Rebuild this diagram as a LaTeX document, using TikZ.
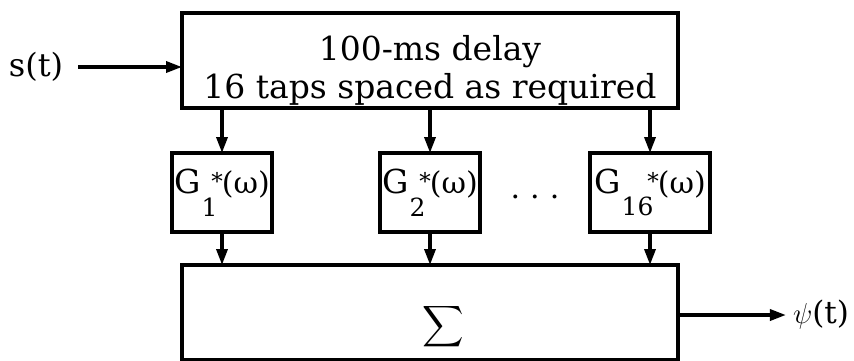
\documentclass[tikz,border=0pt]{standalone}
\usepackage{exscale}
\usepackage{fontspec}
\setmainfont{DejaVu Serif}
\usetikzlibrary{arrows.meta}

\newcommand{\gtap}[1]{{\fontsize{16.5}{16}\selectfont G}\kern0.5pt\raisebox{-0.75em}{\fontsize{12.5}{12}\selectfont #1}\kern-3pt\raisebox{2pt}{\fontsize{11.5}{11}\selectfont *}\kern-0.5pt(ω)}

\begin{document}
\begin{tikzpicture}[x=0.5pt, y=-0.5pt,
	blk/.style={draw, line width=1.7pt, inner sep=0pt, outer sep=0pt},
	sig/.style={line width=1.7pt, -{Triangle[length=8pt,width=5.5pt]}},
	gfont/.style={font=\fontsize{15}{16}\selectfont}]
	\useasboundingbox (0,0) rectangle (854,360);
	
	\node[blk, minimum width=248pt, minimum height=47.5pt] (delay) at (430,60.5) {};
	\node[align=center, font=\fontsize{16.5}{19}\selectfont] (delaytext) at (430,70) {100-ms delay\\16 taps spaced as required};
	
	\node[blk, gfont, minimum width=50pt, minimum height=39.5pt] (g1) at (222,192.5) {\gtap{1}};
	\node[blk, gfont, minimum width=50pt, minimum height=39.5pt] (g2) at (430,192.5) {\gtap{2}};
	\node[blk, gfont, minimum width=60pt, minimum height=39.5pt] (g16) at (650,192.5) {\gtap{16}};
	\node[gfont] (dots) at (535,197) {.\hspace{5pt}.\hspace{5pt}.};
	
	\node[blk, minimum width=248pt, minimum height=47.5pt] (sum) at (430,312.5) {};
	\node[font=\fontsize{14.5}{16}\selectfont] (sigma) at (443,327) {$\displaystyle\sum$};
	
	\node[font=\fontsize{16}{18}\selectfont] (s) at (36,67) {s(t)};
	\node[font=\fontsize{15.5}{18}\selectfont] (psi) at (821,315) {$\psi$(t)};
	
	\draw[sig, shorten <=4pt] (s.east) -- (s -| delay.west);
	\foreach \g in {g1,g2,g16} {
		\draw[sig] (delay.south -| \g) -- (\g.north);
		\draw[sig] (\g.south) -- (\g |- sum.north);
	}
	\draw[sig] (sum.east |- psi) -- (psi.west);
\end{tikzpicture}
\end{document}
